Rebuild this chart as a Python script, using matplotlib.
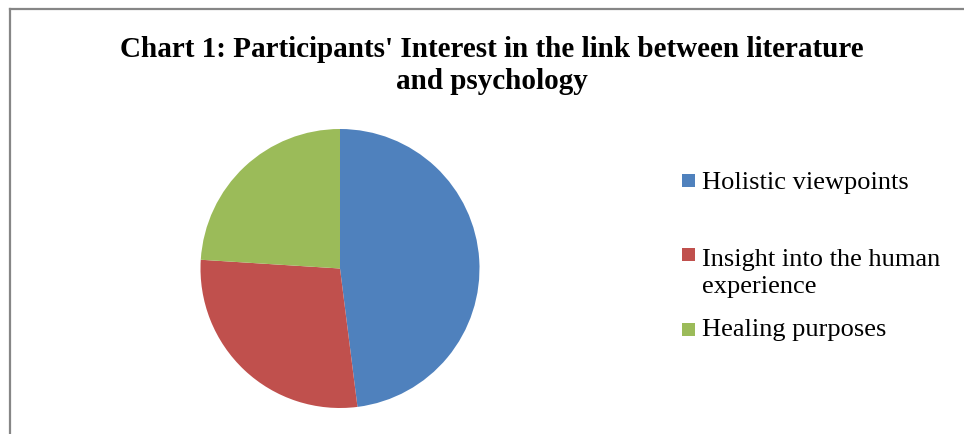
import matplotlib.pyplot as plt
from matplotlib.lines import Line2D
from matplotlib.patches import Rectangle

W, H = 964, 434  # pixels

categories = ["Holistic viewpoints", "Insight into the human\nexperience", "Healing purposes"]
shares = [48, 28, 24]
colors = ["#4F81BD", "#C0504D", "#9BBB59"]

title = "Chart 1: Participants' Interest in the link between literature\nand psychology"

fig = plt.figure(figsize=(W / 100, H / 100), dpi=100)

# outer chart frame (only left and top edges visible in the crop)
fig.add_artist(Line2D([9.5 / W, 9.5 / W], [0, 1 - 8.5 / H], transform=fig.transFigure,
                      color="#868686", lw=1.6))
fig.add_artist(Line2D([9.5 / W, 1], [1 - 8.5 / H, 1 - 8.5 / H], transform=fig.transFigure,
                      color="#868686", lw=1.6))

# baseline of the last title line
fig.text(492 / W, 1 - 89 / H, title, ha="center", va="baseline", family="Liberation Serif",
         weight="bold", fontsize=21, linespacing=1.23)

# pie: centre (340, 268.5), radius 139.5 px
cx, cy, r = 340, 268.5, 139.5
ax = fig.add_axes([(cx - r) / W, 1 - (cy + r) / H, 2 * r / W, 2 * r / H])
ax.pie(shares, colors=colors, startangle=90, counterclock=False,
       wedgeprops=dict(linewidth=0))
ax.set_xlim(-1, 1)
ax.set_ylim(-1, 1)
ax.set_aspect("equal")
ax.axis("off")

# legend: marker top y, baseline of last text line
marker_tops = [174, 248, 323]
baselines = [189, 293, 336]
for lab, col, top, y in zip(categories, colors, marker_tops, baselines):
    fig.add_artist(Rectangle((682 / W, 1 - (top + 13) / H), 13 / W, 13 / H,
                             transform=fig.transFigure, color=col, lw=0))
    fig.text(702 / W, 1 - y / H, lab, ha="left", va="baseline", family="Liberation Serif",
             fontsize=19, linespacing=1.28)

fig.savefig("out.png", dpi=100)
